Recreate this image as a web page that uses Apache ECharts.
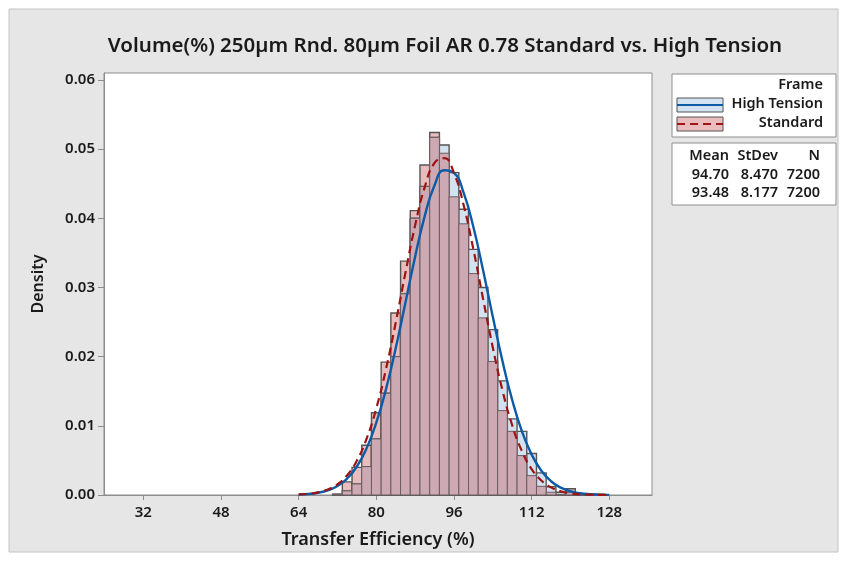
<!DOCTYPE html>
<html>
<head>
<meta charset="utf-8">
<script src="https://cdn.jsdelivr.net/npm/echarts@6/dist/echarts.min.js"></script>
<style>
html, body { margin: 0; padding: 0; background: #fff; }
#main { width: 847px; height: 566px; }
</style>
</head>
<body>
<div id="main"></div>
<script>
var titleText = 'Volume(%) 250µm Rnd. 80µm Foil AR 0.78 Standard vs. High Tension'

// histogram bins (left edge), width 2
var binStarts = [71, 73, 75, 77, 79, 81, 83, 85, 87, 89, 91, 93, 95, 97, 99, 101, 103, 105, 107, 109, 111, 113, 115, 117, 119, 121, 123, 125]
var binWidth = 2
var standard = [0.0001, 0.0019, 0.0040, 0.0072, 0.0119, 0.0192, 0.0263, 0.0338, 0.0411, 0.0477, 0.0524, 0.0494, 0.0431, 0.0392,
    0.0320, 0.0256, 0.0193, 0.0122, 0.0092, 0.0057, 0.0028, 0.00125, 0.0004, 0.0001, 0.0009, 0.0001, 0.0001, 0]
var highTension = [0.0001, 0.0006, 0.0016, 0.0041, 0.0081, 0.0147, 0.0200, 0.0291, 0.0400, 0.0446, 0.0517, 0.0506, 0.0466, 0.0413,
    0.0355, 0.0300, 0.0239, 0.0165, 0.0110, 0.0092, 0.0060, 0.0032, 0.0012, 0.0004, 0.0004, 0.0001, 0.0001, 0.0001]

// fitted curves
var curveX = [64, 66, 68, 70, 72, 74, 76, 78, 80, 82, 84, 86, 88, 90, 92, 94, 96, 98, 100, 102, 104, 106, 108, 110, 112, 114, 116, 118, 120, 122, 124, 126, 128]
var htCurve = [0.00007, 0.00015, 0.00033, 0.00067, 0.00130, 0.00238, 0.00412, 0.00674, 0.01045, 0.01531, 0.02121, 0.02779, 0.03445, 0.04038,
    0.04477, 0.04694, 0.04655, 0.04366, 0.03873, 0.03249, 0.02578, 0.01934, 0.01373, 0.00921, 0.00585, 0.00351, 0.00199, 0.00107, 0.00054, 0.00026, 0.00012, 0.00005, 0.00002]
var stdCurve = [0.00007, 0.00017, 0.00038, 0.00079, 0.00155, 0.00286, 0.00497, 0.00813, 0.01254, 0.01821, 0.02492, 0.03211, 0.03898, 0.04456,
    0.04800, 0.04869, 0.04653, 0.04188, 0.03550, 0.02835, 0.02133, 0.01511, 0.01008, 0.00634, 0.00375, 0.00209, 0.00110, 0.00054, 0.00025, 0.00011, 0.00005, 0.00002, 0.00001]

var xTicks = [32, 48, 64, 80, 96, 112, 128]
var yTicks = [0, 0.01, 0.02, 0.03, 0.04, 0.05, 0.06]

var groups = ['High Tension', 'Standard']
var means = [94.70, 93.48]
var stdevs = [8.470, 8.177]
var counts = [7200, 7200]

var font = 'Noto Sans'
var pink = '#e9bdbd'
var blue = '#d3e2f1'
var mauve = '#cdaab3'
var legendFont = '600 14.5px "' + font + '"'

function barItem(fill, stroke, lw) {
    return function (params, api) {
        var x0 = api.value(0)
        var h = api.value(1)
        var p0 = api.coord([x0, h])
        var p1 = api.coord([x0 + binWidth, 0])
        return {
            type: 'rect',
            shape: { x: p0[0], y: p0[1], width: p1[0] - p0[0], height: p1[1] - p0[1] },
            style: { fill: fill, stroke: stroke, lineWidth: lw }
        }
    }
}

function label(t, x, y) {
    return { type: 'text', x: x, y: y, style: { text: t, font: legendFont, fill: '#1a1a1a', textAlign: 'right', textVerticalAlign: 'middle' } }
}

var myChart = echarts.init(document.getElementById('main'))

var legendGraphics = [
    { type: 'rect', shape: { x: 9, y: 9, width: 829, height: 543 }, style: { fill: '#e6e6e6', stroke: '#c4c4c4', lineWidth: 1 }, z: -10 },
    { type: 'text', x: 445, y: 46, style: { text: titleText, font: '600 20.5px "' + font + '"', fill: '#1a1a1a', textAlign: 'center', textVerticalAlign: 'middle' } },
    { type: 'rect', shape: { x: 672, y: 74, width: 164, height: 63 }, style: { fill: '#fff', stroke: '#8f8f8f', lineWidth: 1 } },
    label('Frame', 823, 85),
    { type: 'rect', shape: { x: 677, y: 98, width: 46, height: 14 }, style: { fill: blue, stroke: '#555', lineWidth: 1 } },
    { type: 'line', shape: { x1: 677, y1: 105, x2: 723, y2: 105 }, style: { stroke: '#0d5aa7', lineWidth: 2 } },
    label(groups[0], 823, 104),
    { type: 'rect', shape: { x: 677, y: 117, width: 46, height: 14 }, style: { fill: pink, stroke: '#555', lineWidth: 1 } },
    { type: 'line', shape: { x1: 677, y1: 124, x2: 723, y2: 124 }, style: { stroke: '#a31515', lineWidth: 2, lineDash: [8, 5] } },
    label(groups[1], 823, 123),
    { type: 'rect', shape: { x: 672, y: 143, width: 164, height: 62 }, style: { fill: '#fff', stroke: '#8f8f8f', lineWidth: 1 } }
]

var statCols = [729, 778, 820]
var statHead = ['Mean', 'StDev', 'N']
statHead.forEach(function (t, i) {
    legendGraphics.push(label(t, statCols[i], 156))
})
groups.forEach(function (g, r) {
    var row = [means[r].toFixed(2), stdevs[r].toFixed(3), String(counts[r])]
    row.forEach(function (t, i) {
        legendGraphics.push(label(t, statCols[i], 174.5 + r * 18.5))
    })
})

var option = {
    animation: false,
    backgroundColor: '#fff',
    textStyle: { fontFamily: font },
    graphic: legendGraphics,
    grid: {
        show: true,
        left: 104,
        top: 73,
        width: 548,
        height: 422,
        backgroundColor: '#fff',
        borderColor: '#8c8c8c',
        borderWidth: 1
    },
    xAxis: {
        type: 'value',
        min: 23.9,
        max: 136.8,
        name: 'Transfer Efficiency (%)',
        nameLocation: 'middle',
        nameGap: 36,
        nameTextStyle: { fontFamily: font, fontWeight: 600, fontSize: 18, color: '#1a1a1a' },
        axisLine: { show: true, lineStyle: { color: '#8c8c8c' } },
        axisTick: { show: true, length: 5, lineStyle: { color: '#8c8c8c' }, customValues: xTicks },
        axisLabel: { fontFamily: font, fontWeight: 600, fontSize: 15, color: '#1a1a1a', margin: 10, customValues: xTicks },
        splitLine: { show: false }
    },
    yAxis: {
        type: 'value',
        min: 0,
        max: 0.061,
        name: 'Density',
        nameLocation: 'middle',
        nameGap: 58,
        nameTextStyle: { fontFamily: font, fontWeight: 600, fontSize: 16, color: '#1a1a1a' },
        axisLine: { show: true, lineStyle: { color: '#8c8c8c' } },
        axisTick: { show: true, length: 6, lineStyle: { color: '#8c8c8c' }, customValues: yTicks },
        axisLabel: {
            fontFamily: font, fontWeight: 600, fontSize: 15, color: '#1a1a1a', margin: 9, customValues: yTicks,
            formatter: function (v) { return v.toFixed(2) }
        },
        splitLine: { show: false }
    },
    series: [
        {
            name: 'Standard',
            type: 'custom',
            renderItem: barItem(pink, '#555', 1.4),
            encode: { x: 0, y: 1 },
            data: binStarts.map(function (b, i) { return [b, standard[i]] })
        },
        {
            name: 'High Tension',
            type: 'custom',
            renderItem: barItem(blue, '#555', 1.4),
            encode: { x: 0, y: 1 },
            data: binStarts.map(function (b, i) { return [b, highTension[i]] })
        },
        {
            name: 'overlap',
            type: 'custom',
            renderItem: barItem(mauve, '#6c5c60', 1),
            encode: { x: 0, y: 1 },
            data: binStarts.map(function (b, i) { return [b, Math.min(standard[i], highTension[i])] })
        },
        {
            name: 'High Tension fit',
            type: 'line',
            smooth: true,
            showSymbol: false,
            lineStyle: { color: '#0d5aa7', width: 2.4 },
            data: curveX.map(function (x, i) { return [x, htCurve[i]] })
        },
        {
            name: 'Standard fit',
            type: 'line',
            smooth: true,
            showSymbol: false,
            lineStyle: { color: '#9e1212', width: 2.2, type: [8, 5] },
            data: curveX.map(function (x, i) { return [x, stdCurve[i]] })
        }
    ]
}

myChart.setOption(option)
</script>
</body>
</html>
